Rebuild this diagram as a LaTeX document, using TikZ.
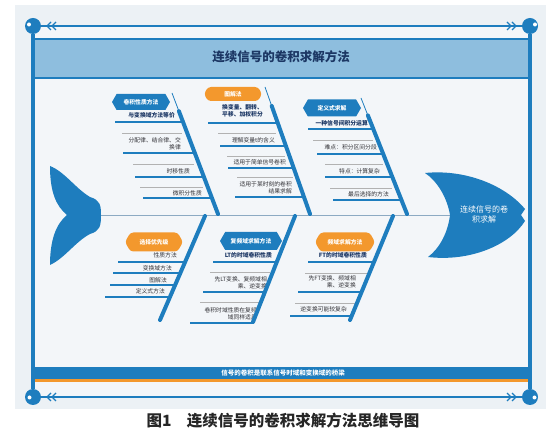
\documentclass[tikz,border=0pt]{standalone}
\usepackage{fontspec}
\setmainfont{Noto Sans CJK SC}
\usepackage{xcolor}
\definecolor{fishblue}{RGB}{30, 125, 190}
\definecolor{bandblue}{RGB}{142, 190, 222}
\definecolor{navy}{RGB}{28, 55, 100}
\definecolor{accentorange}{RGB}{243, 152, 45}
\definecolor{panelgrey}{RGB}{236, 241, 245}
\definecolor{innerbg}{RGB}{243, 246, 249}
\definecolor{spinecol}{RGB}{140, 170, 195}
\definecolor{txtgrey}{RGB}{50, 50, 55}
\usepackage{tikz}
\usetikzlibrary{arrows.meta, calc, positioning, shapes.symbols}

\newcommand\smallcn{\fontsize{5.8}{7}\selectfont}

\begin{document}
\begin{tikzpicture}[x=1pt, y=-1pt,
  leaf/.style={font=\smallcn, text=txtgrey, inner sep=0pt, align=right, anchor=east},
  keyleaf/.style={leaf, font=\smallcn\bfseries, text=navy},
  uline/.style={line width=2.6pt, color=fishblue},
  gline/.style={line width=0.5pt, color=black!30},
  rib/.style={line width=4pt, color=fishblue, line cap=round},
  hexbox/.style={signal, signal to=west and east, signal pointer angle=120,
    fill=fishblue, text=white, font=\smallcn\bfseries,
    minimum width=58pt, minimum height=16pt, inner sep=0pt},
  orangebox/.style={hexbox, fill=accentorange, rounded corners=3pt},
  knob/.style={circle, fill=fishblue, minimum size=16pt, inner sep=0pt},
  chev/.style={line width=1.3pt, color=fishblue}]
  \useasboundingbox (0,0) rectangle (560,435);
  \fill[white] (0,0) rectangle (560,435);
  \fill[panelgrey] (15,5) rectangle (546,409);
  \fill[innerbg] (33,26) rectangle (530,397);

  % 标题栏
  \draw[fill=bandblue, draw=fishblue, line width=1.2pt] (34,39) rectangle (529,78);
  \node[font=\fontsize{12.5}{14}\selectfont\bfseries, text=navy] (title) at (281,57) {连续信号的卷积求解方法};

  % 底栏
  \fill[fishblue] (34,367) rectangle (529,379);
  \fill[accentorange] (34,379) rectangle (529,382.5);
  \node[font=\fontsize{6.5}{7}\selectfont\bfseries, text=white] (foot) at (283,373) {信号的卷积是联系信号时域和变换域的桥梁};

  % 外框
  \node[knob] (tl) at (33,26) {};
  \node[knob] (tr) at (530,26) {};
  \node[knob] (bl) at (33,397) {};
  \node[knob] (br) at (530,397) {};
  \fill[white] (29,24.5) circle (2);
  \fill[white] (535,24.5) circle (2);
  \fill[white] (29.5,397.5) circle (2);
  \fill[white] (534.5,397.5) circle (2);
  \draw[line width=4.5pt, fishblue] (tl) -- (bl);
  \draw[line width=4.5pt, fishblue] (tr) -- (br);
  \draw[line width=1.8pt, fishblue] (tl) -- (tr);
  \draw[line width=1.8pt, fishblue] (bl) -- (br);
  \draw[chev] (51,22) -- (47,26) -- (51,30) (56,22) -- (52,26) -- (56,30);
  \draw[chev] (512,22) -- (516,26) -- (512,30) (507,22) -- (511,26) -- (507,30);
  \draw[chev] (51,393) -- (47,397) -- (51,401) (56,393) -- (52,397) -- (56,401);
  \draw[chev] (512,393) -- (516,397) -- (512,401) (507,393) -- (511,397) -- (507,401);

  % 鱼骨主干
  \coordinate (tailend) at (100,215);
  \coordinate (headend) at (450,215);
  \draw[line width=0.8pt, spinecol] (tailend) -- (headend);
  % 鱼尾
  \fill[fishblue] (67,215) .. controls (56,206) and (50,192) .. (50,166)
    .. controls (65,172) and (75,188) .. (90,197)
    .. controls (100,200) and (101,205) .. (101,215)
    .. controls (101,226) and (100,231) .. (90,234)
    .. controls (75,242) and (65,258) .. (50,265)
    .. controls (50,240) and (56,224) .. (67,215) -- cycle;
  % 鱼头
  \fill[fishblue] (450,215) .. controls (447,197) and (437,181) .. (425,173)
    .. controls (465,169) and (505,185) .. (525,209)
    -- (521,215) -- (525,221)
    .. controls (510,245) and (470,262) .. (428,257)
    .. controls (440,248) and (448,232) .. (450,215) -- cycle;
  \node[font=\fontsize{8}{10}\selectfont, text=white, align=center] (headtxt) at (484,214) {连续信号的卷\\积求解};

  % 卷积性质方法
  \node[keyleaf] (k11) at (175,115) {与变换域方法等价};
  \draw[uline] (115,122) -- (183,122);
  \draw[gline] (122,133) -- (182,133);
  \node[leaf] (k12) at (181,144) {分配律、结合律、交\\换律};
  \draw[uline] (123,153) -- (195,153);
  \draw[gline] (133,164) -- (194,164);
  \node[leaf] (k13) at (190,171) {时移性质};
  \draw[uline] (135,177) -- (204,177);
  \draw[gline] (140,187) -- (203,187);
  \node[leaf] (k14) at (202,193) {微积分性质};
  \draw[uline] (143,198) -- (212,198);

  % 图解法
  \node[keyleaf, align=left, anchor=west] (k21) at (222,111) {换变量、翻转、\\平移、加权积分};
  \draw[uline] (208,123) -- (278,123);
  \draw[gline] (218,133) -- (276,133);
  \node[leaf] (k22) at (275,140) {理解变量t的含义};
  \draw[uline] (220,146) -- (286,146);
  \draw[gline] (227,156) -- (285,156);
  \node[leaf] (k23) at (286,162) {适用于简单信号卷积};
  \draw[uline] (228,168) -- (294,168);
  \draw[gline] (237,177) -- (293,177);
  \node[leaf] (k24) at (292,188) {适用于某时刻的卷积\\结果求解};
  \draw[uline] (235,197) -- (304,197);

  % 定义式求解
  \node[keyleaf] (k31) at (368,123) {一种信号间积分运算};
  \draw[uline] (308,129) -- (373,129);
  \draw[gline] (313,140) -- (373,140);
  \node[leaf] (k32) at (377,147) {难点：积分区间分段};
  \draw[uline] (317,154) -- (383,154);
  \draw[gline] (325,164) -- (383,164);
  \node[leaf] (k33) at (380,171) {特点：计算复杂};
  \draw[uline] (325,177) -- (392,177);
  \draw[gline] (330,188) -- (392,188);
  \node[leaf] (k34) at (389,194) {最后选择的方法};
  \draw[uline] (333,200) -- (401,200);

  % 选择优先级
  \node[leaf] (k41) at (177,255) {性质方法};
  \draw[uline] (118,262) -- (185,262);
  \node[leaf] (k42) at (172,268) {变换域方法};
  \draw[uline] (113,273) -- (180,273);
  \node[leaf] (k43) at (167,280) {图解法};
  \draw[uline] (110,285) -- (175,285);
  \node[leaf] (k44) at (165,291) {定义式方法};
  \draw[uline] (105,297) -- (170,297);

  % 复频域求解方法
  \node[keyleaf] (k51) at (272,255) {LT的时域卷积性质};
  \draw[uline] (213,262) -- (277,262);
  \draw[gline] (210,272) -- (270,272);
  \node[leaf] (k52) at (267,282.5) {先LT变换、复频域相\\乘、逆变换};
  \draw[uline] (203,292) -- (265,292);
  \draw[gline] (200,302) -- (260,302);
  \node[leaf] (k53) at (257,313.5) {卷积时域性质在复频\\域同样适用};
  \draw[uline] (190,323) -- (253,323);

  % 频域求解方法
  \node[keyleaf] (k61) at (367,255) {FT的时域卷积性质};
  \draw[uline] (308,262) -- (374,262);
  \draw[gline] (305,273) -- (367,273);
  \node[leaf] (k62) at (356,282) {先FT变换、频域相\\乘、逆变换};
  \draw[uline] (298,292) -- (361,292);
  \draw[gline] (295,303) -- (356,303);
  \node[leaf] (k63) at (347,309) {逆变换可能较复杂};
  \draw[uline] (290,316) -- (352,316);

  % 鱼刺
  \coordinate (r1a) at (172,93);  \coordinate (r1b) at (218,214);
  \coordinate (r2a) at (265,87);  \coordinate (r2b) at (310,214);
  \coordinate (r3a) at (361,98);  \coordinate (r3b) at (407,214);
  \coordinate (r4a) at (205,216); \coordinate (r4b) at (160,320);
  \coordinate (r5a) at (295,216); \coordinate (r5b) at (253,322);
  \coordinate (r6a) at (393,216); \coordinate (r6b) at (350,320);
  \draw[line width=0.8pt, fishblue] (r1a) -- (r1b);
  \draw[line width=0.8pt, fishblue] (r2a) -- (r2b);
  \draw[line width=0.8pt, fishblue] (r3a) -- (r3b);
  \draw[rib] ($(r1a)!0.15!(r1b)$) -- (r1b);
  \draw[rib] ($(r2a)!0.15!(r2b)$) -- (r2b);
  \draw[rib] ($(r3a)!0.15!(r3b)$) -- (r3b);
  \draw[rib] (r4a) -- (r4b);
  \draw[rib] (r5a) -- (r5b);
  \draw[rib] (r6a) -- (r6b);

  % 分支标签
  \node[hexbox] (b1) at (141,102) {卷积性质方法};
  \node[orangebox, minimum height=14pt] (b2) at (233,94) {图解法};
  \node[hexbox, minimum height=17pt] (b3) at (332,108) {定义式求解};
  \node[orangebox, minimum height=19pt] (b4) at (154,242) {选择优先级};
  \node[hexbox, minimum width=62pt, minimum height=18pt] (b5) at (251,241) {复频域求解方法};
  \node[orangebox, minimum width=60pt, minimum height=19pt] (b6) at (345,242) {频域求解方法};

  % 图题
  \node[font=\fontsize{15.5}{17}\selectfont\bfseries, text=black!85] (caption) at (283,421) {图1\quad 连续信号的卷积求解方法思维导图};
\end{tikzpicture}
\end{document}
